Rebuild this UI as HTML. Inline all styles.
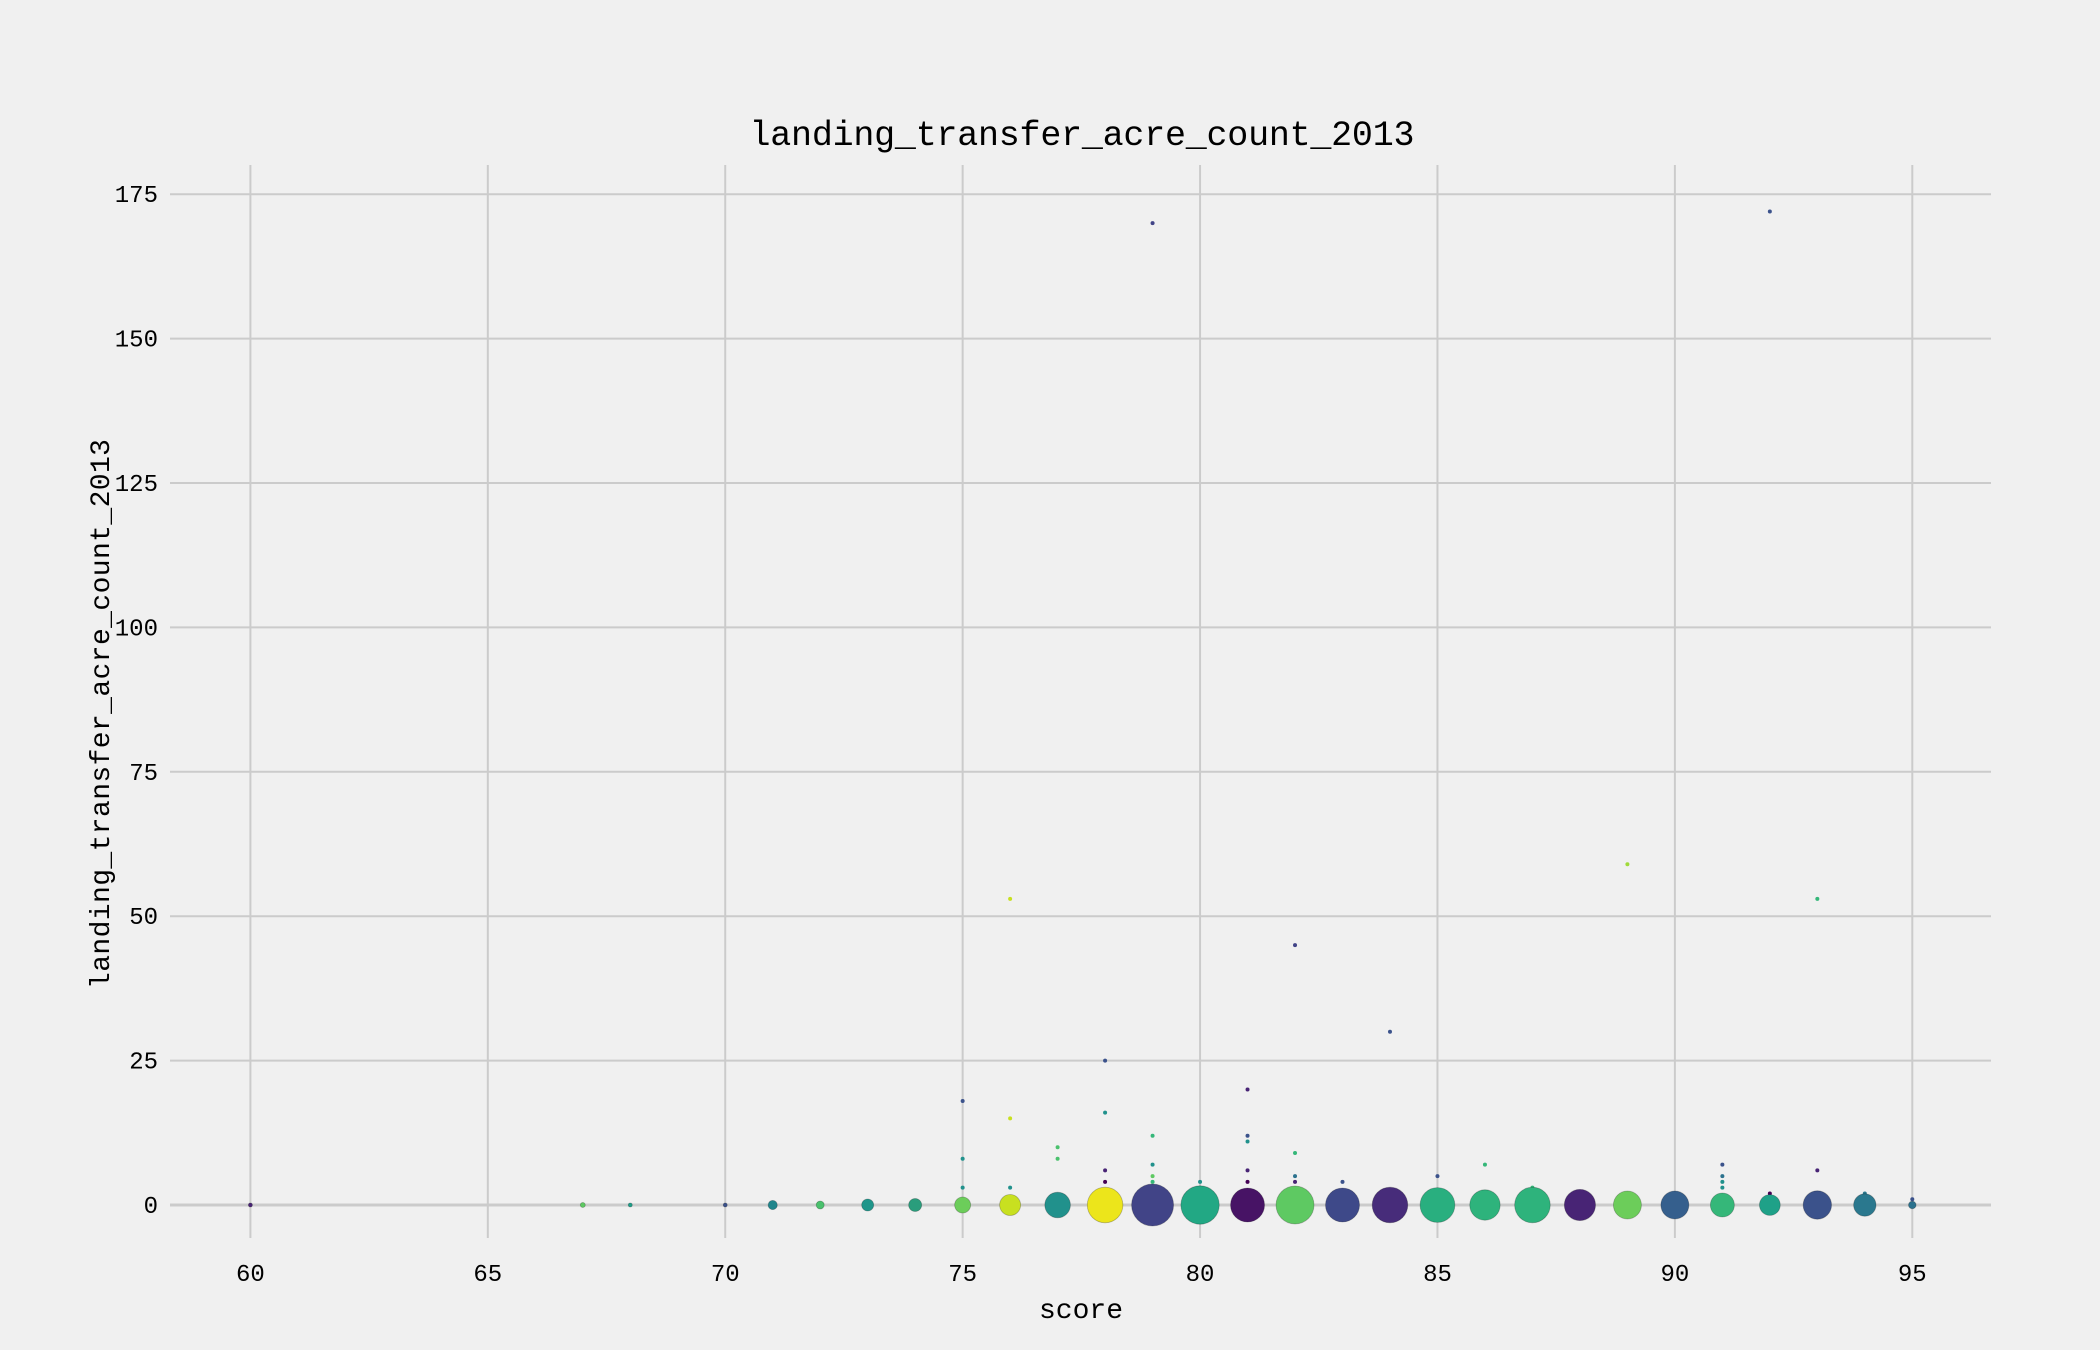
<!DOCTYPE html>
<html><head><meta charset="utf-8"><style>
html,body{margin:0;padding:0;background:#f0f0f0;}
svg{display:block;font-family:"Liberation Mono","DejaVu Sans Mono",monospace;}
</style></head><body>
<svg id="chart" width="2100" height="1350" viewBox="0 0 2100 1350" xmlns="http://www.w3.org/2000/svg">
<rect x="0" y="0" width="2100" height="1350" fill="#f0f0f0"/>
<g id="grid"></g>
<g id="marks"></g>
<g id="ticks"></g>
<text x="1082" y="145" font-size="35" text-anchor="middle" textLength="665" fill="#000">landing_transfer_acre_count_2013</text>
<text x="1081" y="1318" font-size="28" text-anchor="middle" fill="#000">score</text>
<text transform="translate(109,714) rotate(-90)" font-size="28" text-anchor="middle" textLength="550" fill="#000">landing_transfer_acre_count_2013</text>
</svg>
<script>
const xTicks=[60,65,70,75,80,85,90,95];
const yTicks=[0,25,50,75,100,125,150,175];
// big bubbles at y=0: score, radius, colour
const bubbleScores=[60,67,68,70,71,72,73,74,75,76,77,78,79,80,81,82,83,84,85,86,87,88,89,90,91,92,93,94,95];
const bubbleR=[2,2.5,2,2,4.6,4,6,6.5,8,10.5,12.8,17.8,21,19.2,17,19,17,17.8,17.4,15.2,17.8,15.6,14,14,12,10.4,14.2,11.2,3.8];
const bubbleColors=["#482475","#5ec962","#1f9e89","#3b528b","#20868c","#4ac16d","#1f968b","#2a9d7c","#6ccd5a","#c8e020","#21918c","#ece51b","#414487","#22a884","#471365","#5ec962","#3e4989","#472c7a","#29af7f","#2eb37c","#2eb37c","#482475","#6ccd5a","#355f8d","#35b779","#1fa188","#3b528b","#2a788e","#2c728e"];
// small points
const dotScores=[75,75,75,76,76,76,77,77,78,78,78,78,79,79,79,79,79,80,81,81,81,81,81,82,82,82,82,83,84,85,86,87,89,90,91,91,91,91,92,92,93,93,94,95];
const dotValues=[18,8,3,53,15,3,10,8,25,16,6,4,170,12,7,5,4,4,20,12,11,6,4,45,9,5,4,4,30,5,7,3,59,2,7,5,4,3,172,2,53,6,2,1];
const dotColors=["#3b528b","#21918c","#21918c","#c8e020","#c8e020","#21918c","#4ac16d","#4ac16d","#3b528b","#21918c","#482475","#440154","#414487","#35b779","#21918c","#5ec962","#35b779","#21918c","#482475","#3b528b","#21918c","#482475","#440154","#414487","#35b779","#2c728e","#482475","#3b528b","#3b528b","#3b528b","#35b779","#35b779","#a0da39","#c8e020","#3b528b","#2c728e","#21918c","#21918c","#3b528b","#440154","#35b779","#482475","#2a788e","#3b528b"];
const NS="http://www.w3.org/2000/svg";
const L=170,R=1991,T=165,B=1238;
function xs(v){return 250.4+(v-60)*(1912.3-250.4)/35;}
function ys(v){return 1205-v*(1205-194.2)/175;}
function mk(tag,attrs,parent){const e=document.createElementNS(NS,tag);for(const k in attrs)e.setAttribute(k,attrs[k]);parent.appendChild(e);return e;}
const grid=document.getElementById('grid'),marks=document.getElementById('marks'),ticks=document.getElementById('ticks');
xTicks.forEach(t=>{
  const l=mk('line',{x1:xs(t),x2:xs(t),y1:T,y2:B,stroke:'#cbcbcb','stroke-width':2},grid);
  
  
  const tx=mk('text',{x:xs(t),y:1281,'font-size':24,'text-anchor':'middle',fill:'#000'},ticks);
  tx.textContent=t;
  
  
});
yTicks.forEach(t=>{
  const l=mk('line',{x1:L,x2:R,y1:ys(t),y2:ys(t),stroke:'#cbcbcb','stroke-width':t===0?3:2},grid);
  
  
  const tx=mk('text',{x:158,y:ys(t)+8,'font-size':24,'text-anchor':'end',fill:'#000'},ticks);
  tx.textContent=t;
  
  
});
dotScores.forEach((s,i)=>{
  const e=mk('circle',{cx:xs(s),cy:ys(dotValues[i]),r:2,fill:dotColors[i]},marks);
  
  
});
bubbleScores.forEach((s,i)=>{
  const e=mk('circle',{cx:xs(s),cy:ys(0),r:bubbleR[i],fill:bubbleColors[i],stroke:'rgba(0,0,0,0.25)','stroke-width':0.8},marks);
  
  
});
</script>
</body></html>
